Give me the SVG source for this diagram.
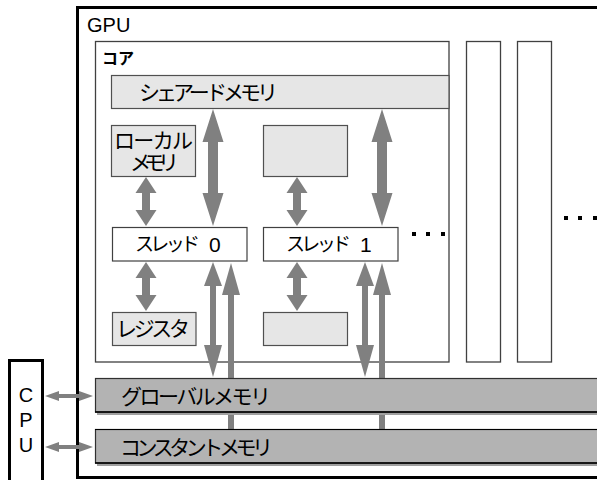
<svg xmlns="http://www.w3.org/2000/svg" width="597" height="480" viewBox="0 0 597 480">
<defs>
<style>
.jp{font-family:"Liberation Sans","Noto Sans CJK JP",sans-serif;font-size:21px;fill:#000;dominant-baseline:central;}
.lat{font-family:"Liberation Sans",Arial,sans-serif;font-size:20px;fill:#000;}
.lt{fill:#e6e6e6;stroke:#505050;stroke-width:1.2;}
.wh{fill:#fff;stroke:#404040;stroke-width:1.2;}
.mem{fill:#b3b3b3;stroke:#303030;stroke-width:1.2;}
.sh{fill:#a0a0a0;}
.arr{fill:#808080;stroke:none;}
.dot{fill:#000;}
</style>
</defs>
<rect width="597" height="480" fill="#fff"/>
<g id="gpu">
<rect x="77.5" y="7.5" width="560" height="470" fill="#fff" stroke="#000" stroke-width="3"/>
<text class="lat" x="87" y="32">GPU</text>
</g>
<g id="core">
<rect x="95.5" y="41.5" width="353.5" height="320.5" fill="#fff" stroke="#404040" stroke-width="1.3"/>
<text x="102" y="58.5" class="jp" style="font-size:16px;font-weight:bold">コア</text>
</g>
<g id="core2"><rect x="466.5" y="41.5" width="34" height="320.5" fill="#fff" stroke="#404040" stroke-width="1.3"/></g>
<g id="core3"><rect x="517.5" y="41.5" width="34" height="320.5" fill="#fff" stroke="#404040" stroke-width="1.3"/></g>
<g id="shared-memory">
<rect class="lt" x="111.5" y="75.5" width="337.5" height="33"/>
<text class="jp" x="139" y="92" textLength="139">シェアードメモリ</text>
</g>
<g id="local-memory">
<rect class="lt" x="111.5" y="125.5" width="84" height="51"/>
<text class="jp" x="153.5" y="140" text-anchor="middle" textLength="79">ローカル</text>
<text class="jp" x="154.5" y="162.5" text-anchor="middle" textLength="49">メモリ</text>
</g>
<g id="local-memory-1"><rect class="lt" x="263.5" y="125.5" width="84" height="51"/></g>
<g id="thread-0">
<rect class="wh" x="112.5" y="227.5" width="134.5" height="33.5"/>
<text class="jp" x="135" y="243.5" style="font-size:19px"><tspan textLength="65">スレッド</tspan> <tspan x="209" style="font-size:21px">0</tspan></text>
</g>
<g id="thread-1">
<rect class="wh" x="263.5" y="227.5" width="134.5" height="33.5"/>
<text class="jp" x="286" y="243.5" style="font-size:19px"><tspan textLength="65">スレッド</tspan> <tspan x="360" style="font-size:21px">1</tspan></text>
</g>
<g id="register">
<rect class="lt" x="112.5" y="312.5" width="83.5" height="33"/>
<text class="jp" x="116" y="328.5" textLength="74">レジスタ</text>
</g>
<g id="register-1"><rect class="lt" x="263.5" y="312.5" width="84" height="33"/></g>
<g id="ellipsis">
<rect class="dot" x="412" y="232" width="4" height="4"/>
<rect class="dot" x="426" y="232" width="4" height="4"/>
<rect class="dot" x="441" y="232" width="4" height="4"/>
<rect class="dot" x="564" y="216" width="4" height="4"/>
<rect class="dot" x="578" y="216" width="4" height="4"/>
<rect class="dot" x="593" y="216" width="4" height="4"/>
</g>
<g id="cpu">
<rect x="9.5" y="360.5" width="33" height="130" fill="#fff" stroke="#000" stroke-width="3"/>
<text class="lat" x="26" y="402" text-anchor="middle">C</text>
<text class="lat" x="26" y="427" text-anchor="middle">P</text>
<text class="lat" x="26" y="452" text-anchor="middle">U</text>
</g>
<g id="connectors">
<polygon class="arr" points="213,109 223.5,142 218,142 218,193 223.5,193 213,226 202.5,193 208,193 208,142 202.5,142"/>
<polygon class="arr" points="382,109 392.5,142 387,142 387,193 392.5,193 382,226 371.5,193 377,193 377,142 371.5,142"/>
<polygon class="arr" points="146,177 156.5,193 150,193 150,210 156.5,210 146,226 135.5,210 142,210 142,193 135.5,193"/>
<polygon class="arr" points="297,177 307.5,193 301,193 301,210 307.5,210 297,226 286.5,210 293,210 293,193 286.5,193"/>
<polygon class="arr" points="146,262 156.5,278 150,278 150,295 156.5,295 146,311 135.5,295 142,295 142,278 135.5,278"/>
<polygon class="arr" points="297,262 307.5,278 301,278 301,295 307.5,295 297,311 286.5,295 293,295 293,278 286.5,278"/>
<polygon class="arr" points="213,262 222,286 216,286 216,345 222,345 213,377 204,345 210,345 210,286 204,286"/>
<polygon class="arr" points="231,263 240,295 234,295 234,429 228,429 228,295 222,295"/>
<polygon class="arr" points="365,262 374,286 368,286 368,345 374,345 365,377 356,345 362,345 362,286 356,286"/>
<polygon class="arr" points="382,263 391,295 385,295 385,429 379,429 379,295 373,295"/>
<polygon class="arr" points="45,396 59,391 59,394 79,394 79,391 93,396 79,401 79,398 59,398 59,401"/>
<polygon class="arr" points="45,447 59,442 59,445 79,445 79,442 93,447 79,452 79,449 59,449 59,452"/>
</g>
<g id="global-memory">
<rect class="sh" x="97" y="410" width="520" height="5"/>
<rect class="mem" x="95.5" y="378.5" width="520" height="33.5"/>
<line x1="95" y1="412" x2="597" y2="412" stroke="#000" stroke-width="1.5"/>
<text class="jp" x="121" y="396" textLength="150">グローバルメモリ</text>
</g>
<g id="constant-memory">
<rect class="sh" x="97" y="461" width="520" height="5"/>
<rect class="mem" x="95.5" y="429.5" width="520" height="33.5"/>
<line x1="95" y1="463" x2="597" y2="463" stroke="#000" stroke-width="1.5"/>
<line x1="95" y1="429.5" x2="597" y2="429.5" stroke="#000" stroke-width="1"/>
<text class="jp" x="120" y="447" textLength="153">コンスタントメモリ</text>
</g>
</svg>
